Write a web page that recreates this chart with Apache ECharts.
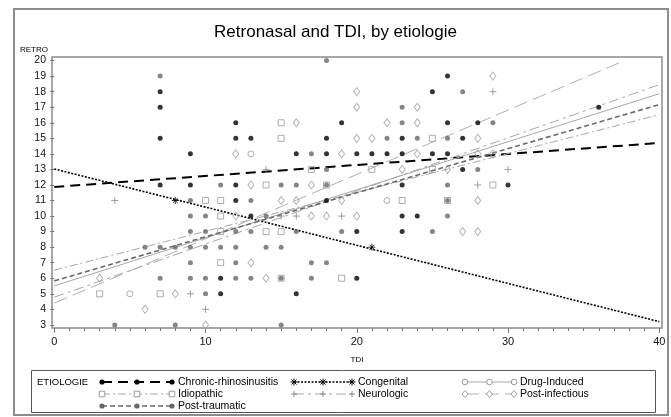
<!DOCTYPE html>
<html><head><meta charset="utf-8">
<script src="https://cdn.jsdelivr.net/npm/echarts@6/dist/echarts.min.js"></script>
<style>html,body{margin:0;padding:0;background:#fff}#c{width:671px;height:417px}</style>
</head><body><div id="c"></div>
<script>
// ---------------- data (TDI, RETRO) ----------------
const groupNames = ['Chronic-rhinosinusitis','Congenital','Drug-Induced','Idiopathic','Neurologic','Post-infectious','Post-traumatic'];

const chronicRhinosinusitis = [[7,18],[7,17],[7,15],[7,12],[9,14],[9,12],[11,6],[11,5],[12,16],[12,15],[12,12],[12,11],[13,15],[13,10],[16,14],[16,5],[18,15],[18,14],[18,11],[19,16],[20,14],[20,9],[20,6],[21,14],[22,14],[23,15],[23,14],[23,12],[23,10],[23,9],[24,10],[25,18],[25,14],[26,19],[26,16],[26,14],[27,15],[27,13],[28,16],[30,12],[36,17]];
const congenital = [[8,11],[21,8]];
const drugInduced = [[5,5],[13,14],[22,11]];
const idiopathic = [[3,5],[7,5],[10,11],[11,11],[11,10],[11,9],[11,7],[14,12],[14,9],[15,16],[15,15],[15,9],[15,6],[17,13],[18,12],[19,6],[21,13],[23,11],[25,15],[25,13],[26,11],[29,12]];
const neurologic = [[4,11],[9,5],[10,4],[14,13],[15,10],[16,10],[19,10],[28,12],[29,18],[30,13]];
const postInfectious = [[3,6],[6,4],[8,5],[10,3],[12,10],[12,14],[13,12],[13,7],[14,6],[15,11],[16,16],[16,11],[17,12],[17,10],[18,10],[19,14],[19,11],[20,18],[20,17],[20,15],[20,10],[21,15],[22,16],[23,13],[24,17],[24,16],[24,14],[26,13],[27,9],[28,15],[28,14],[28,11],[28,9],[29,19],[29,14]];
const postTraumatic = [[4,3],[6,8],[7,19],[7,8],[7,6],[8,8],[8,3],[9,11],[9,10],[9,9],[9,8],[9,7],[9,6],[10,10],[10,9],[10,8],[10,6],[10,5],[11,12],[11,8],[12,9],[12,8],[12,7],[12,6],[13,11],[13,9],[13,6],[14,10],[14,8],[15,12],[15,8],[15,6],[15,3],[16,12],[16,9],[17,14],[17,7],[17,6],[18,20],[18,13],[18,12],[18,7],[19,9],[22,15],[23,17],[23,16],[24,15],[25,9],[26,15],[26,12],[26,11],[26,10],[27,18],[28,13],[29,16]];

// regression lines: [TDI, RETRO] at both ends
const fitChronic = [[0,11.87],[40,14.70]];
const fitCongenital = [[0,13.03],[40,3.21]];
const fitDrugInduced = [[0,5.51],[40,17.87]];
const fitIdiopathic = [[0,6.52],[40,16.52]];
const fitNeurologic = [[0,4.78],[40,18.45]];
const fitPostInfectious = [[0,4.40],[37.7,20.0]];
const fitPostTraumatic = [[0,5.83],[40,17.17]];

const xTickLabels = [0,10,20,30,40];
const xMinorTicks = Array.from({length:41},(_, i)=>i);
const yTickLabels = [3,4,5,6,7,8,9,10,11,12,13,14,15,16,17,18,19,20];

// ---------------- styles ----------------
const FONT = '"Liberation Sans", Arial, sans-serif';
const PLUS = 'path://M5,0L5,10M0,5L10,5';
const STAR = 'path://M5,0L5,10M0,5L10,5M1.6,1.6L8.4,8.4M8.4,1.6L1.6,8.4';
const styles = [
  {data: chronicRhinosinusitis, fit: fitChronic, marker:'dot', color:'#000', size:5, line:{color:'#000', width:2, type:[10,6]}},
  {data: congenital, fit: fitCongenital, marker:'star', color:'#000', size:7, line:{color:'#000', width:1.6, type:[2,1.5]}},
  {data: drugInduced, fit: fitDrugInduced, marker:'circle', color:'#9a9a9a', size:6, line:{color:'#a8a8a8', width:1, type:'solid'}},
  {data: idiopathic, fit: fitIdiopathic, marker:'square', color:'#9a9a9a', size:6, line:{color:'#a8a8a8', width:1, type:[8,3,2,3]}},
  {data: neurologic, fit: fitNeurologic, marker:'plus', color:'#8a8a8a', size:7, line:{color:'#a8a8a8', width:1, type:[10,4,3,4]}},
  {data: postInfectious, fit: fitPostInfectious, marker:'diamond', color:'#a0a0a0', size:7, line:{color:'#b0b0b0', width:1, type:[14,6]}},
  {data: postTraumatic, fit: fitPostTraumatic, marker:'dot', color:'#666', size:5, line:{color:'#6a6a6a', width:1.6, type:[5,3]}}
];

function markerSeries(s, name){
  const base = {name, type:'scatter', data:s.data, z:5, silent:true, animation:false};
  if (s.marker==='dot') return Object.assign(base,{symbol:'circle', symbolSize:s.size, itemStyle:{color:s.color}});
  if (s.marker==='circle') return Object.assign(base,{symbol:'circle', symbolSize:s.size, itemStyle:{color:'rgba(0,0,0,0)', borderColor:s.color, borderWidth:1}});
  if (s.marker==='square') return Object.assign(base,{symbol:'rect', symbolSize:s.size, itemStyle:{color:'rgba(0,0,0,0)', borderColor:s.color, borderWidth:1}});
  if (s.marker==='diamond') return Object.assign(base,{symbol:'diamond', symbolSize:[s.size-1,s.size+1], itemStyle:{color:'rgba(0,0,0,0)', borderColor:s.color, borderWidth:1}});
  if (s.marker==='plus') return Object.assign(base,{symbol:PLUS, symbolSize:s.size, itemStyle:{color:'none', borderColor:s.color, borderWidth:1}});
  if (s.marker==='star') return Object.assign(base,{symbol:STAR, symbolSize:s.size, itemStyle:{color:'none', borderColor:s.color, borderWidth:1}});
}

const series = [];
styles.forEach((s,i)=>{
  series.push({name:groupNames[i]+' fit', type:'line', data:s.fit, symbol:'none', showSymbol:false, silent:true, animation:false, z:3,
    lineStyle:{color:s.line.color, width:s.line.width, type:s.line.type}});
});
styles.forEach((s,i)=>series.push(markerSeries(s, groupNames[i])));

// ---------------- legend (graphic) ----------------
function legendMarker(m, cx, cy, color){
  const r = 2.8;
  if (m==='dot') return [{type:'circle', shape:{cx,cy,r:2.6}, style:{fill:color}}];
  if (m==='circle') return [{type:'circle', shape:{cx,cy,r}, style:{fill:'#fff', stroke:color, lineWidth:1}}];
  if (m==='square') return [{type:'rect', shape:{x:cx-r,y:cy-r,width:2*r,height:2*r}, style:{fill:'#fff', stroke:color, lineWidth:1}}];
  if (m==='diamond') return [{type:'polygon', shape:{points:[[cx,cy-3.5],[cx+3,cy],[cx,cy+3.5],[cx-3,cy]]}, style:{fill:'#fff', stroke:color, lineWidth:1}}];
  if (m==='plus') return [
    {type:'line', shape:{x1:cx-3,y1:cy,x2:cx+3,y2:cy}, style:{stroke:color, lineWidth:1}},
    {type:'line', shape:{x1:cx,y1:cy-3,x2:cx,y2:cy+3}, style:{stroke:color, lineWidth:1}}];
  if (m==='star') return [
    {type:'line', shape:{x1:cx-3.5,y1:cy,x2:cx+3.5,y2:cy}, style:{stroke:color, lineWidth:1}},
    {type:'line', shape:{x1:cx,y1:cy-3.5,x2:cx,y2:cy+3.5}, style:{stroke:color, lineWidth:1}},
    {type:'line', shape:{x1:cx-2.5,y1:cy-2.5,x2:cx+2.5,y2:cy+2.5}, style:{stroke:color, lineWidth:1}},
    {type:'line', shape:{x1:cx+2.5,y1:cy-2.5,x2:cx-2.5,y2:cy+2.5}, style:{stroke:color, lineWidth:1}}];
  return [];
}
const legendCols = [{x0:102, x1:172}, {x0:294, x1:352}, {x0:465, x1:514}];
const legendRows = [382, 394, 406];
const graphics = [
  {type:'rect', shape:{x:14, y:9, width:654, height:406}, style:{fill:'none', stroke:'#8c8c8c', lineWidth:2}, z:0},
  {type:'rect', shape:{x:31.5, y:370.5, width:624, height:42}, style:{fill:'none', stroke:'#555', lineWidth:1}, z:1},
  {type:'text', x:37, y:382, style:{text:'ETIOLOGIE', font:'9.5px ' + FONT, fill:'#000', textVerticalAlign:'middle'}},
  {type:'text', x:20, y:50, style:{text:'RETRO', font:'8px ' + FONT, fill:'#000', textVerticalAlign:'middle'}}
];
styles.forEach((s,i)=>{
  const col = legendCols[i%3], y = legendRows[Math.floor(i/3)];
  graphics.push({type:'line', shape:{x1:col.x0, y1:y, x2:col.x1, y2:y}, style:{stroke:s.line.color, lineWidth:s.line.width, lineDash: s.line.type==='solid'?null:s.line.type}});
  const xm = (col.x0+col.x1)/2;
  [col.x0, xm, col.x1].forEach(cx=>legendMarker(s.marker, cx, y, s.color).forEach(g=>graphics.push(g)));
  graphics.push({type:'text', x:col.x1+6, y:y, style:{text:groupNames[i], font:'10.5px ' + FONT, fill:'#000', textVerticalAlign:'middle'}});
});

const chart = echarts.init(document.getElementById('c'), null, {renderer:'canvas'});
chart.setOption({
  animation:false,
  backgroundColor:'#fff',
  title:{text:'Retronasal and TDI, by etiologie', left:'center', top:19,
    textStyle:{fontSize:17, fontWeight:'normal', color:'#000', fontFamily:FONT}},
  grid:{left:52, right:9, top:57, bottom:89, show:true, borderColor:'#8a8a8a', borderWidth:1.5, backgroundColor:'#fff'},
  xAxis:[
    {type:'value', min:-0.15, max:40.18, name:'TDI', nameLocation:'middle', nameGap:28,
      nameTextStyle:{fontSize:8, color:'#000', fontFamily:FONT},
      splitLine:{show:false}, axisLine:{show:false},
      axisTick:{show:true, customValues:xTickLabels, length:5, lineStyle:{color:'#777'}},
      axisLabel:{customValues:xTickLabels, fontSize:11, color:'#111', margin:8, fontFamily:FONT}},
    {type:'value', min:-0.15, max:40.18, position:'bottom', splitLine:{show:false}, axisLine:{show:false},
      axisTick:{show:true, customValues:xMinorTicks, length:3, lineStyle:{color:'#777'}},
      axisLabel:{show:false}}
  ],
  yAxis:{type:'value', min:2.8, max:20.23,
    splitLine:{show:false}, axisLine:{show:false},
    axisTick:{show:true, customValues:yTickLabels, length:4, lineStyle:{color:'#777'}},
    axisLabel:{customValues:yTickLabels, fontSize:10.5, color:'#111', margin:6, fontFamily:FONT}},
  graphic: graphics,
  series: series
});
</script></body></html>
